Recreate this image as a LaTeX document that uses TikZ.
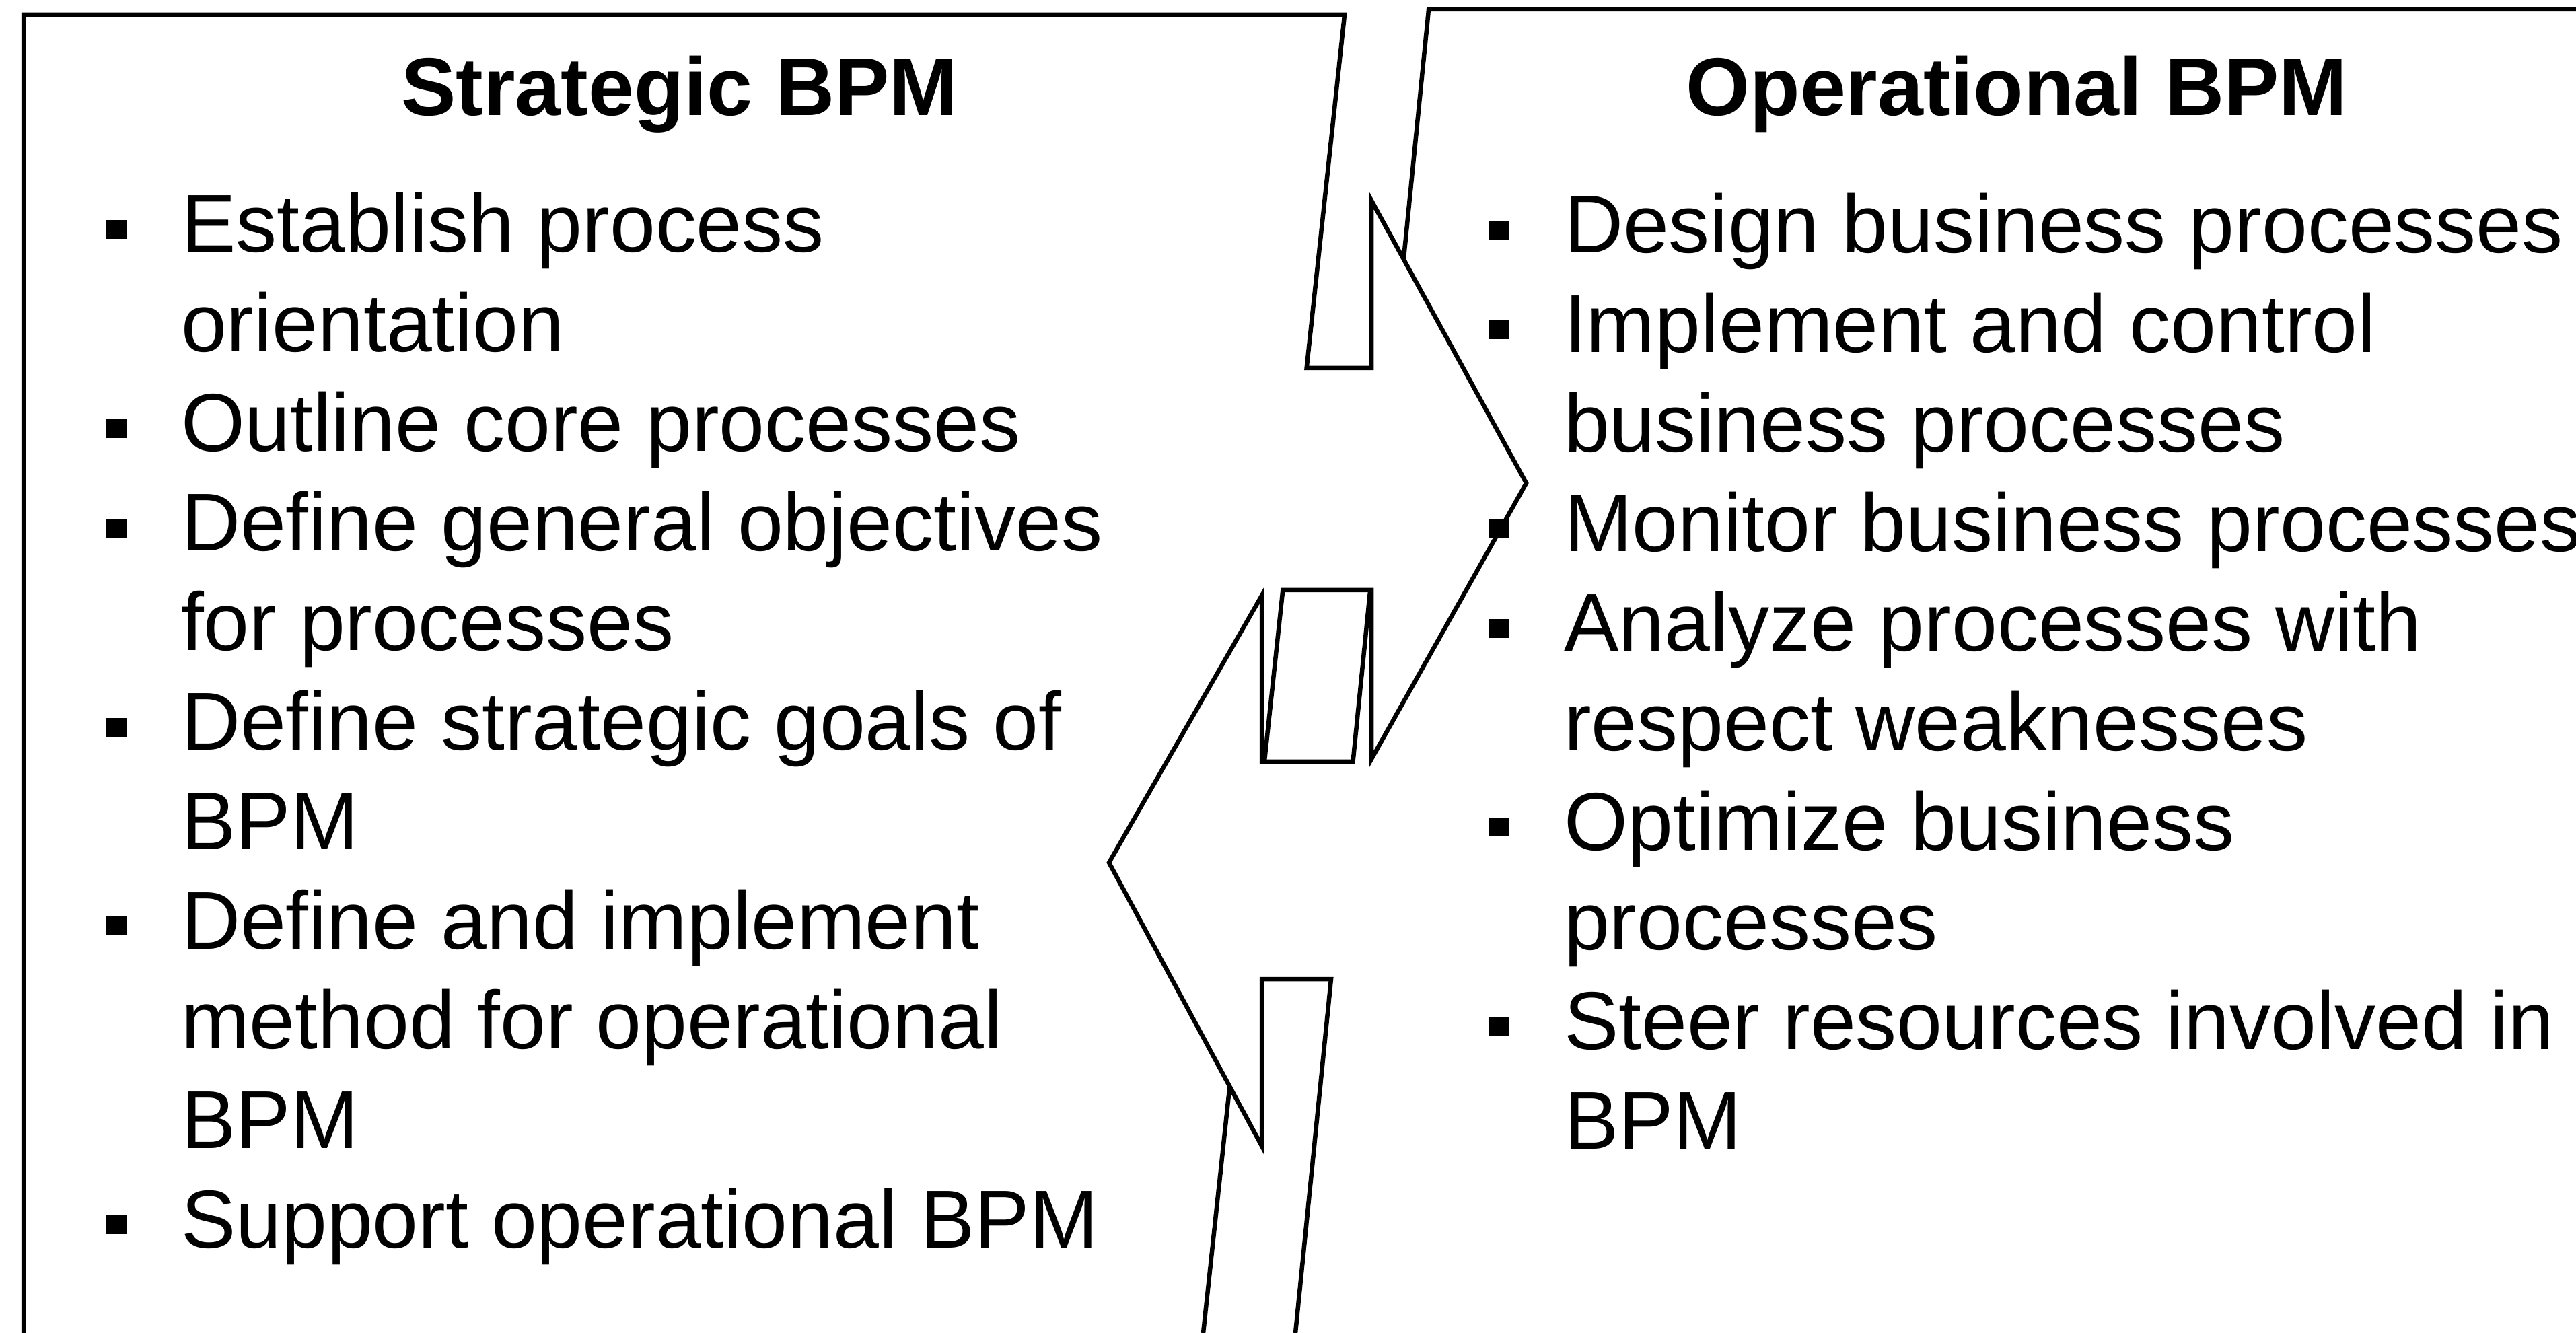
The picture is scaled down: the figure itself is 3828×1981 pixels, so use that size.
\documentclass[tikz,border=0pt]{standalone}
\usepackage{fontspec}
\setmainfont{Liberation Sans}
\usepackage{tikz}
\usetikzlibrary{positioning}
\definecolor{colortext}     {RGB}{0 ,0 ,0 }

\begin{document}
\begin{tikzpicture}[
    x=0.1pt, y=-0.1pt,
    font={\fontsize{12.2pt}{14.8pt}\selectfont},
    txt/.style={text=colortext,anchor=base west,inner sep=0pt},
    txtbf/.style={txt,anchor=base,font={\fontsize{12.2pt}{14.8pt}\selectfont\bfseries}},
    bullet/.style={fill=colortext,inner sep=0pt,minimum width=3.1pt,minimum height=2.8pt},
    panel/.style={draw=colortext,line width=0.65pt,line join=miter},
]

    \useasboundingbox (0,0) rectangle (3828,1981);

    % panel corners
    \coordinate (ltl) at (35,22);
    \coordinate (ltr) at (1998,22);
    \coordinate (lbl) at (35,1981);
    \coordinate (lbr) at (1788,1981);
    \coordinate (rtl) at (2123,14);
    \coordinate (rtr) at (3828,14);
    \coordinate (rbl) at (1925,1981);

    % arrow heads
    \coordinate (ratop) at (2038,298);
    \coordinate (ratip) at (2268,718);
    \coordinate (rabot) at (2038,1128);
    \coordinate (latop) at (1875,885);
    \coordinate (latip) at (1648,1282);
    \coordinate (labot) at (1875,1703);

    % where the arrows cut the slanted edges
    \coordinate (ra1)    at (intersection of ltr--lbr and 0,547--3828,547);
    \coordinate (ra4)    at (intersection of ltr--lbr and 0,877--3828,877);
    \coordinate (lpend)  at (intersection of ltr--lbr and 0,1132--3828,1132);
    \coordinate (lplow)  at (intersection of ltr--lbr and latip--labot);
    \coordinate (rp1)    at (intersection of rtl--rbl and ratop--ratip);
    \coordinate (rp2)    at (intersection of rtl--rbl and 0,877--3828,877);
    \coordinate (rp3)    at (intersection of rtl--rbl and 0,1132--3828,1132);
    \coordinate (rp4)    at (intersection of rtl--rbl and 0,1455--3828,1455);

    \draw[panel] (lbl) -- (ltl) -- (ltr) -- (ra1) -- (ra1 -| ratop) -- (ratop)
        -- (ratip) -- (rabot) -- (ra4 -| rabot) -- (ra4) -- (lpend);
    \draw[panel] (lplow) -- (lbr);
    \draw[panel] (rtr) -- (rtl) -- (rp1);
    \draw[panel] (rp2) -- (rp3) -- (rp3 -| latop) -- (latop) -- (latip) -- (labot)
        -- (rp4 -| labot) -- (rp4) -- (rbl);

    \node[txtbf] (strategic)   at (1010,172) {Strategic BPM};
    \node[txtbf] (operational) at (2997,172) {Operational BPM};

    \foreach \i/\b/\t in {0/1/Establish process, 1/0/orientation,
        2/1/Outline core processes, 3/1/Define general objectives,
        4/0/for processes, 5/1/Define strategic goals of, 6/0/BPM,
        7/1/Define and implement, 8/0/method for operational, 9/0/BPM,
        10/1/Support operational BPM}{
        \node[txt] (sl\i) at (267,375+147.9*\i) {\t};
        \ifnum\b=1 \node[bullet] (sb\i) at (172,341+147.9*\i) {};\fi
    }

    \foreach \i/\b/\t in {0/1/Design business processes, 1/1/Implement and control,
        2/0/business processes, 3/1/Monitor business processes,
        4/1/Analyze processes with, 5/0/respect weaknesses,
        6/1/Optimize business, 7/0/processes,
        8/1/Steer resources involved in, 9/0/BPM}{
        \node[txt] (ol\i) at (2322,376+147.9*\i) {\t};
        \ifnum\b=1 \node[bullet] (ob\i) at (2227,342+147.9*\i) {};\fi
    }

\end{tikzpicture}
\end{document}
